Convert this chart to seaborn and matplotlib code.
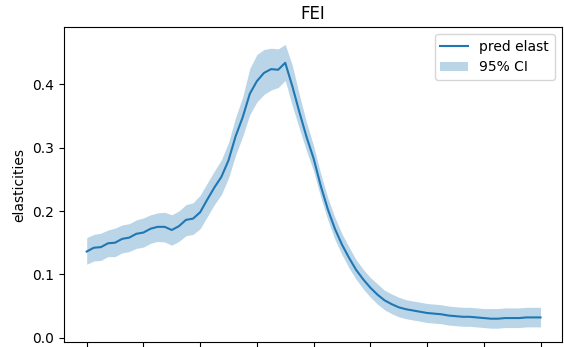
import numpy as np
import pandas as pd
import matplotlib
matplotlib.use("Agg")
import matplotlib.pyplot as plt
import seaborn as sns

# grid positions (tick units) and predicted elasticities with 95% bounds
x_pos = np.arange(65) / 8.0

pred_elast = [
    0.136, 0.142, 0.143, 0.149, 0.150, 0.156, 0.158, 0.164, 0.166, 0.172,
    0.175, 0.175, 0.170, 0.176, 0.186, 0.188, 0.198, 0.218, 0.237, 0.254,
    0.280, 0.318, 0.348, 0.385, 0.405, 0.418, 0.424, 0.423, 0.434, 0.397,
    0.356, 0.317, 0.283, 0.240, 0.203, 0.172, 0.147, 0.126, 0.107, 0.092,
    0.079, 0.068, 0.059, 0.053, 0.048, 0.045, 0.043, 0.041, 0.039, 0.038,
    0.037, 0.035, 0.034, 0.033, 0.033, 0.032, 0.031, 0.030, 0.030, 0.031,
    0.031, 0.031, 0.032, 0.032, 0.032,
]

ci_upper = [
    0.158, 0.163, 0.165, 0.170, 0.173, 0.178, 0.180, 0.186, 0.189, 0.194,
    0.197, 0.198, 0.194, 0.200, 0.210, 0.213, 0.225, 0.244, 0.263, 0.281,
    0.308, 0.348, 0.380, 0.425, 0.447, 0.455, 0.457, 0.456, 0.463, 0.430,
    0.383, 0.340, 0.303, 0.259, 0.221, 0.190, 0.164, 0.143, 0.123, 0.108,
    0.095, 0.085, 0.075, 0.069, 0.064, 0.060, 0.058, 0.056, 0.054, 0.053,
    0.052, 0.050, 0.049, 0.048, 0.048, 0.047, 0.046, 0.046, 0.046, 0.047,
    0.047, 0.047, 0.048, 0.048, 0.048,
]

ci_lower = [
    0.116, 0.121, 0.122, 0.128, 0.128, 0.134, 0.136, 0.141, 0.143, 0.149,
    0.152, 0.151, 0.146, 0.152, 0.161, 0.163, 0.172, 0.191, 0.210, 0.226,
    0.252, 0.288, 0.318, 0.352, 0.372, 0.384, 0.391, 0.395, 0.406, 0.366,
    0.330, 0.295, 0.263, 0.222, 0.186, 0.155, 0.131, 0.110, 0.092, 0.077,
    0.064, 0.053, 0.044, 0.038, 0.033, 0.030, 0.028, 0.026, 0.024, 0.023,
    0.022, 0.020, 0.019, 0.018, 0.018, 0.017, 0.016, 0.015, 0.015, 0.016,
    0.016, 0.016, 0.017, 0.017, 0.017,
]

y_ticks = [0.0, 0.1, 0.2, 0.3, 0.4]

df = pd.DataFrame({"x": x_pos, "pred": pred_elast,
                   "lo": ci_lower, "hi": ci_upper})

fig = plt.figure(figsize=(5.64, 3.47), dpi=100)
ax = fig.add_axes([64 / 564, 5 / 347, 497.5 / 564, 315 / 347])

blue = "#1f77b4"
sns.lineplot(data=df, x="x", y="pred", ax=ax, color=blue,
             linewidth=1.5, label="pred elast")
ax.fill_between(df["x"], df["lo"], df["hi"], color=blue, alpha=0.3,
                linewidth=0, label="95% CI")

ax.set_xlim(-0.4, 8.37)
ax.set_ylim(-0.0068, 0.4905)
ax.set_xticks(np.arange(9))
ax.set_yticks(y_ticks)
ax.set_yticklabels([f"{v:.1f}" for v in y_ticks])
ax.tick_params(axis="x", labelbottom=False)
ax.set_xlabel("")
ax.set_ylabel("elasticities")
ax.set_title("FEI")
ax.legend(loc="upper right")

fig.savefig("out.png", dpi=100)
